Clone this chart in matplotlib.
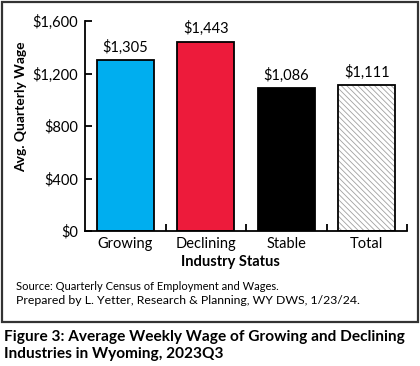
"""Average weekly wage by industry status, Wyoming 2023Q3."""
import matplotlib
matplotlib.use("Agg")
import matplotlib.pyplot as plt
from matplotlib.patches import Rectangle
from matplotlib.ticker import FuncFormatter

categories = ["Growing", "Declining", "Stable", "Total"]
wages = [1305, 1443, 1086, 1111]
colors = ["#00aeef", "#ed1b3b", "#000000", "#ffffff"]
yticks = [0, 400, 800, 1200, 1600]


def main():
    plt.rcParams.update({"font.family": ["Lato", "DejaVu Sans"], "font.size": 10.5,
                         "hatch.linewidth": 0.6})
    W, H = 420, 366
    fig = plt.figure(figsize=(W / 100, H / 100), dpi=100)
    ax = fig.add_axes([85 / W, 1 - 231 / H, 322 / W, 210 / H])

    x = range(len(categories))
    bars = ax.bar(x, wages, width=0.71, color=colors, edgecolor="black", linewidth=1.3, zorder=2)
    # hatch the Total bar in light grey, keep a black outline on top
    tot = bars[-1]
    tot.set_facecolor("white"); tot.set_edgecolor("#a0a0a0"); tot.set_hatch("\\" * 6); tot.set_linewidth(0)
    ax.bar([x[-1]], [wages[-1]], width=0.71, fill=False, edgecolor="black", linewidth=1.3, zorder=3)

    for xi, v in zip(x, wages):
        ax.text(xi, v + 40, f"${v:,}", ha="center", va="bottom", fontsize=10.5)

    ax.set_xlim(-0.5, len(categories) - 0.5)
    ax.set_ylim(0, 1600)
    ax.set_yticks(yticks)
    ax.yaxis.set_major_formatter(FuncFormatter(lambda v, p: f"${v:,.0f}"))
    ax.set_xticks(list(x))
    ax.set_xticklabels(categories)
    ax.set_xticks([i + 0.5 for i in x], minor=True)
    ax.tick_params(axis="x", which="major", length=0, pad=4, labelsize=10.5)
    ax.tick_params(axis="x", which="minor", direction="in", length=5, width=1.3)
    ax.tick_params(axis="y", direction="in", length=5, width=1.3, pad=5, labelsize=10.5)
    for s in ("top", "right"):
        ax.spines[s].set_visible(False)
    for s in ("left", "bottom"):
        ax.spines[s].set_linewidth(1.3)

    fig.text(21 / W, 1 - 107 / H, "Avg. Quarterly Wage", rotation=90, ha="center", va="center",
             fontsize=10, weight="bold")
    fig.text(230 / W, 1 - 262 / H, "Industry Status", ha="center", va="center",
             fontsize=10.5, weight="bold")
    fig.text(16 / W, 1 - 287 / H, "Source: Quarterly Census of Employment and Wages.",
             ha="left", va="center", fontsize=8.0)
    fig.text(16 / W, 1 - 301 / H, "Prepared by L. Yetter, Research & Planning, WY DWS, 1/23/24.",
             ha="left", va="center", fontsize=8.8)
    fig.text(4 / W, 1 - 337 / H, "Figure 3: Average Weekly Wage of Growing and Declining",
             ha="left", va="center", fontsize=11.1, weight="bold")
    fig.text(4 / W, 1 - 354 / H, "Industries in Wyoming, 2023Q3",
             ha="left", va="center", fontsize=11.1, weight="bold")

    fig.add_artist(Rectangle((2 / W, 1 - 322 / H), 416 / W, 320 / H, transform=fig.transFigure,
                             fill=False, edgecolor="#333333", linewidth=1.6))
    fig.savefig("out.png", dpi=100)
    plt.close(fig)


if __name__ == "__main__":
    main()
